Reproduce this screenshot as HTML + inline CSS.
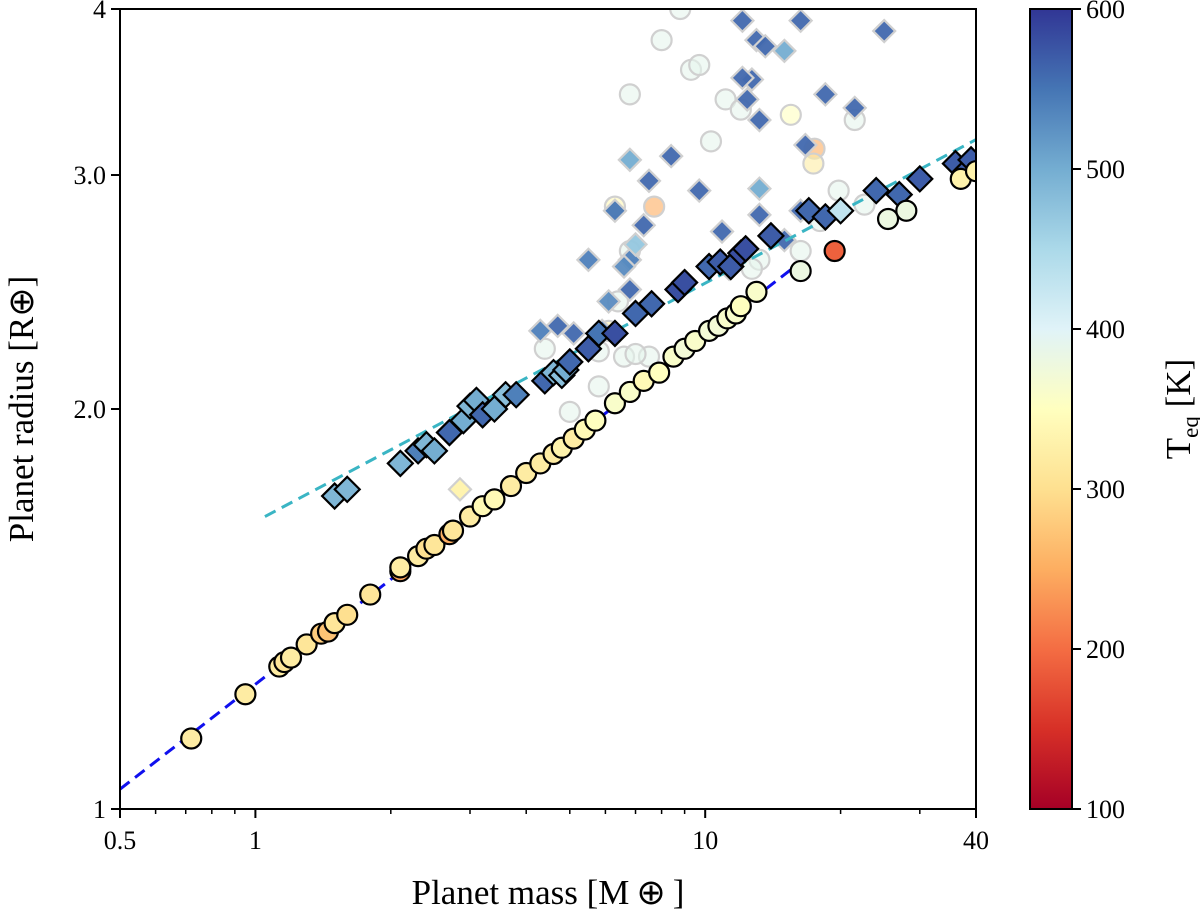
<!DOCTYPE html>
<html><head><meta charset="utf-8"><style>
html,body{margin:0;padding:0;background:#fff;}
svg{display:block;font-family:"Liberation Serif",serif;}
</style></head><body>
<svg id="chart" width="1200" height="919" viewBox="0 0 1200 919" xmlns="http://www.w3.org/2000/svg">
<defs>
<linearGradient id="cmap" x1="0" y1="1" x2="0" y2="0">
<stop offset="0" stop-color="#a50026"/><stop offset="0.1" stop-color="#d73027"/><stop offset="0.2" stop-color="#f46d43"/><stop offset="0.3" stop-color="#fdae61"/><stop offset="0.4" stop-color="#fee090"/><stop offset="0.5" stop-color="#ffffbf"/><stop offset="0.6" stop-color="#e0f3f8"/><stop offset="0.7" stop-color="#abd9e9"/><stop offset="0.8" stop-color="#74add1"/><stop offset="0.9" stop-color="#4575b4"/><stop offset="1" stop-color="#313695"/>
</linearGradient>
<clipPath id="plotclip"><rect x="120" y="9" width="856" height="800"/></clipPath>
</defs>
<g id="marks" clip-path="url(#plotclip)"></g>
<g id="axes"></g>
</svg>
<script>
// data: [mass, radius, teq]
const fadedCircles=[[8.8,4,390],[8,3.79,390],[9.3,3.6,390],[6.8,3.45,390],[9.7,3.63,390],[11.1,3.42,390],[12,3.36,390],[21.5,3.3,390],[19.8,2.92,390],[22.6,2.85,390],[6.8,2.63,390],[6.4,2.41,390],[5.8,2.21,390],[6.6,2.19,390],[7.5,2.19,390],[5.8,2.08,390],[5,1.99,390],[10.3,3.18,390],[13.2,2.59,390],[12.7,2.55,390],[16.3,2.63,390],[18,2.77,390],[15.5,3.33,350],[17.5,3.14,250],[17.4,3.06,320],[7.7,2.84,250],[6.3,2.84,340],[6.1,2.29,330],[7.0,2.2,390],[4.4,2.22,390]];
const fadedDiamonds=[[4.3,2.29,540],[5.5,2.59,540],[6.3,2.82,550],[6.8,3.08,500],[7.5,2.97,560],[8.4,3.1,560],[7.3,2.75,560],[6.8,2.59,540],[6.8,2.46,560],[6.1,2.41,530],[5.9,2.29,540],[9.7,2.92,560],[10.9,2.72,560],[12.1,3.92,560],[13,3.79,560],[13.6,3.75,560],[12.7,3.54,560],[12.1,3.55,560],[12.4,3.42,560],[13.2,3.3,560],[15,3.72,500],[16.7,3.16,560],[16.3,2.82,560],[13.2,2.93,500],[13.2,2.8,560],[11.3,2.55,560],[16.3,3.92,560],[18.5,3.45,560],[21.5,3.37,560],[25,3.85,560],[15,2.68,560],[4.7,2.31,560],[5.1,2.28,560],[2.85,1.74,330],[7.0,2.66,470],[6.6,2.56,530]];
const circles=[[0.72,1.13,320],[0.95,1.22,320],[1.13,1.28,320],[1.16,1.29,310],[1.2,1.30,320],[1.3,1.33,310],[1.4,1.355,280],[1.45,1.36,270],[1.5,1.38,310],[1.6,1.40,300],[1.8,1.45,310],[2.1,1.51,240],[2.1,1.52,320],[2.3,1.55,320],[2.4,1.57,300],[2.5,1.58,310],[2.7,1.61,250],[2.75,1.62,310],[3.0,1.66,320],[3.2,1.69,340],[3.4,1.71,340],[3.7,1.75,320],[4.0,1.79,320],[4.3,1.82,320],[4.6,1.85,320],[4.8,1.87,330],[5.1,1.90,320],[5.4,1.93,340],[5.7,1.96,350],[6.3,2.02,360],[6.8,2.06,360],[7.3,2.10,340],[7.9,2.13,350],[8.5,2.19,360],[9.0,2.22,370],[9.5,2.25,360],[10.2,2.29,370],[10.7,2.31,370],[11.2,2.34,360],[11.7,2.36,360],[12.0,2.39,350],[13.0,2.45,360],[16.3,2.54,380],[19.4,2.63,190],[25.5,2.78,380],[28,2.82,380],[37,2.98,330],[40,3.02,330]];
const diamonds=[[1.5,1.72,490],[1.6,1.74,490],[2.1,1.82,490],[2.3,1.86,540],[2.4,1.88,490],[2.5,1.86,500],[2.7,1.92,560],[2.9,1.96,500],[3.0,2.01,490],[3.1,2.03,500],[3.2,1.98,560],[3.4,2.0,500],[3.6,2.05,480],[3.8,2.05,540],[4.4,2.1,560],[4.6,2.13,490],[4.8,2.12,480],[4.9,2.14,500],[5.0,2.17,560],[5.5,2.22,570],[5.8,2.28,550],[6.3,2.28,580],[7.0,2.36,560],[7.6,2.4,560],[8.7,2.46,580],[9.0,2.49,580],[10.2,2.56,560],[10.8,2.58,570],[11.4,2.56,570],[12.0,2.62,580],[12.3,2.64,580],[14.0,2.7,570],[17.0,2.82,560],[18.5,2.79,560],[20,2.82,430],[24,2.92,560],[27,2.9,560],[30,2.98,570],[36,3.06,570],[38,3.02,570],[39,3.08,570]];
const blueLine=[[0.5,1.035],[16.3,2.58]];
const cyanLine=[[1.05,1.66],[40,3.19]];
const xTicks=[0.5,1,10,40];
const xTickLabels=["0.5","1","10","40"];
const xMinor=[0.6,0.7,0.8,0.9,2,3,4,5,6,7,8,9,20,30];
const yTicks=[1,2,3,4];
const yTickLabels=["1","2.0","3.0","4"];
const cbTicks=[100,200,300,400,500,600];

const NS="http://www.w3.org/2000/svg";
const X0=120,X1=976,Y0=809,Y1=9;
const lx0=Math.log10(0.5),lx1=Math.log10(40),ly0=0,ly1=Math.log10(4);
function xs(m){return X0+(Math.log10(m)-lx0)/(lx1-lx0)*(X1-X0);}
function ys(r){return Y0-(Math.log10(r)-ly0)/(ly1-ly0)*(Y0-Y1);}
function cbY(t){return 809-(t-100)/500*800;}
const stops=["#a50026","#d73027","#f46d43","#fdae61","#fee090","#ffffbf","#e0f3f8","#abd9e9","#74add1","#4575b4","#313695"];
function hex(h){return [1,3,5].map(i=>parseInt(h.substr(i,2),16));}
function color(t){let f=Math.max(0,Math.min(1,(t-100)/500))*10;let i=Math.min(9,Math.floor(f));let a=hex(stops[i]),b=hex(stops[i+1]);let u=f-i;return "rgb("+a.map((v,k)=>Math.round(v+(b[k]-v)*u)).join(",")+")";}
function el(tag,attrs,parent){const e=document.createElementNS(NS,tag);for(const k in attrs)e.setAttribute(k,attrs[k]);parent.appendChild(e);return e;}
const marks=document.getElementById('marks'),axes=document.getElementById('axes');

function circle(p,faded){return el('circle',{cx:xs(p[0]),cy:ys(p[1]),r:10,fill:color(p[2]),stroke:faded?'#d0d0d0':'#000','stroke-width':2.2,'fill-opacity':faded?0.6:1},marks);}
function diamond(p,faded){const x=xs(p[0]),y=ys(p[1]),s=faded?11:12.5;return el('polygon',{points:`${x},${y-s} ${x+s},${y} ${x},${y+s} ${x-s},${y}`,fill:color(p[2]),stroke:faded?'#d0d0d0':'#000','stroke-width':2.2,'fill-opacity':faded?0.95:1},marks);}
fadedCircles.forEach(p=>{const e=circle(p,true);

});
fadedDiamonds.forEach(p=>{const e=diamond(p,true);

});
function line(d,col,name){const e=el('line',{x1:xs(d[0][0]),y1:ys(d[0][1]),x2:xs(d[1][0]),y2:ys(d[1][1]),stroke:col,'stroke-width':3,'stroke-dasharray':'12,7'},marks);

}
line(blueLine,'#1010ee','rocky-fit-line');
line(cyanLine,'#3ab5c4','water-fit-line');
diamonds.forEach(p=>{const e=diamond(p,false);

});
circles.forEach(p=>{const e=circle(p,false);

});

const fr=el('rect',{x:X0,y:Y1,width:X1-X0,height:Y0-Y1,fill:'none',stroke:'#000','stroke-width':2},axes);


xTicks.forEach((t,i)=>{const x=xs(t);el('line',{x1:x,y1:Y0,x2:x,y2:Y0+9,stroke:'#000','stroke-width':2},axes);
const tx=el('text',{x:x,y:Y0+40,'font-size':26,'text-anchor':'middle'},axes);tx.textContent=xTickLabels[i];

});
xMinor.forEach(t=>{const x=xs(t);el('line',{x1:x,y1:Y0,x2:x,y2:Y0+5,stroke:'#000','stroke-width':1.5},axes);});
yTicks.forEach((t,i)=>{const y=ys(t);el('line',{x1:X0-9,y1:y,x2:X0,y2:y,stroke:'#000','stroke-width':2},axes);
const tx=el('text',{x:X0-14,y:y+9,'font-size':26,'text-anchor':'end'},axes);tx.textContent=yTickLabels[i];

});
const xl=el('text',{x:548,y:904,'font-size':35,'text-anchor':'middle'},axes);xl.textContent='Planet mass [M\u2009\u2295\u2009]';


const yl=el('text',{x:0,y:0,'font-size':35,'text-anchor':'middle',transform:'translate(33,409) rotate(-90)'},axes);yl.textContent='Planet radius [R\u2295]';


const cb=el('rect',{x:1030,y:9,width:42,height:800,fill:'url(#cmap)',stroke:'#000','stroke-width':2},axes);


cbTicks.forEach(t=>{const y=cbY(t);el('line',{x1:1072,y1:y,x2:1081,y2:y,stroke:'#000','stroke-width':2},axes);
const tx=el('text',{x:1086,y:y+9,'font-size':26},axes);tx.textContent=String(t);

});
const ct=el('text',{x:0,y:0,'font-size':35,'text-anchor':'middle',transform:'translate(1190,409) rotate(-90)'},axes);
ct.innerHTML='T<tspan font-size="23" dy="8">eq</tspan><tspan dy="-8"> [K]</tspan>';


</script>
</body></html>
